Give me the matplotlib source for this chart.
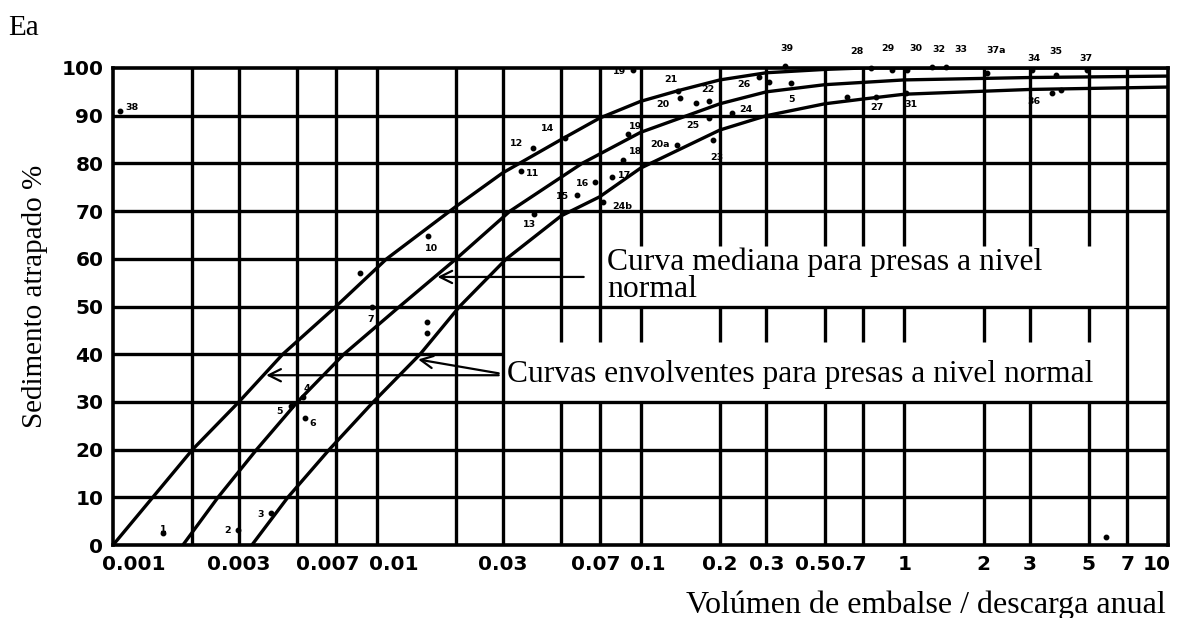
import numpy as np
import matplotlib
matplotlib.use("Agg")
import matplotlib.pyplot as plt
from matplotlib.transforms import ScaledTranslation

# axis grid and labels
x_grid = [0.002, 0.003, 0.005, 0.007, 0.01, 0.02, 0.03, 0.05, 0.07,
          0.1, 0.2, 0.3, 0.5, 0.7, 1, 2, 3, 5, 7]
x_ticks = [0.001, 0.003, 0.007, 0.01, 0.03, 0.07, 0.1, 0.2, 0.3,
           0.5, 0.7, 1, 2, 3, 5, 7, 10]
x_ticklabels = ["0.001", "0.003", "0.007", "0.01", "0.03", "0.07", "0.1",
                "0.2", "0.3", "0.5", "0.7", "1", "2", "3", "5", "7", "10"]
y_ticks = list(range(0, 101, 10))

# curves
upper_x = [0.001, 0.002, 0.003, 0.0044, 0.007, 0.0109, 0.02, 0.03, 0.05,
           0.07, 0.1, 0.14, 0.2, 0.3, 0.5, 0.7, 10]
upper_y = [0, 20, 30, 40, 50, 60, 71, 78, 85, 89.5, 93, 95.3, 97.5, 99, 99.7, 100, 100]

median_x = [0.00184, 0.0025, 0.0035, 0.005, 0.0075, 0.0122, 0.02, 0.032,
            0.06, 0.1, 0.2, 0.3, 0.5, 1, 3, 10]
median_y = [0, 10, 20, 30, 40, 50, 60, 70, 80, 86.5, 92.5, 95, 96.5, 97.5, 98, 98.3]

lower_x = [0.00336, 0.0046, 0.0066, 0.0097, 0.0146, 0.0206, 0.031, 0.05,
           0.07, 0.1, 0.2, 0.3, 0.5, 0.7, 1, 3, 10]
lower_y = [0, 10, 20, 30, 40, 50, 60, 69, 73, 79, 87, 90, 92.5, 93.5, 94.5, 95.5, 96]

# observed reservoirs
pt_lab = ["1", "2", "3", "4", "5", "6", "7", "", "", "", "10", "11", "12", "13",
          "14", "15", "16", "17", "18", "19", "19", "20", "21", "22", "",
          "20a", "23", "25", "24", "24b", "26", "", "39", "5", "28", "29",
          "30", "32", "33", "37a", "34", "35", "37", "36", "27", "31", "",
          "", "", "38"]
pt_x = [0.00155, 0.00297, 0.00396, 0.00525, 0.00472, 0.00534, 0.00957, 0.00862,
        0.0155, 0.0155, 0.0156, 0.0351, 0.039, 0.0393, 0.0515, 0.0572, 0.067,
        0.0783, 0.0855, 0.0893, 0.0933, 0.1406, 0.139, 0.1825, 0.163, 0.138,
        0.1875, 0.1825, 0.223, 0.0718, 0.282, 0.308, 0.354, 0.373, 0.75, 0.902,
        1.026, 1.276, 1.442, 2.06, 3.05, 3.77, 4.93, 3.63, 0.784, 1.018, 3.94,
        0.608, 5.82, 0.00106]
pt_y = [2.5, 3.1, 6.7, 31.0, 29.1, 26.6, 49.9, 57.0, 46.8, 44.4, 64.8, 78.4,
        83.2, 69.4, 85.3, 73.4, 76.1, 77.1, 80.7, 86.2, 99.6, 93.7, 95.2, 93.1,
        92.7, 83.9, 84.9, 89.5, 90.6, 71.9, 98.1, 97.1, 100.5, 96.9, 100.0,
        99.6, 99.6, 100.2, 100.2, 99.0, 99.6, 98.5, 99.6, 94.8, 93.9, 94.8,
        95.4, 93.9, 1.7, 91.0]
# label offsets in pixels
pt_off = [(0, 4), (-10, 0), (-10, -1), (4, 9), (-11, -5), (8, -5), (-1, -12),
          (0, 0), (0, 0), (0, 0), (4, -13), (12, -2), (-16, 5), (-4, -11),
          (-17, 10), (-14, -2), (-12, -1), (12, 2), (13, 9), (8, 7), (-13, -2),
          (-17, -6), (-7, 11), (-2, 11), (0, 0), (-17, 0), (4, -17), (-17, -7),
          (13, 3), (20, -4), (-15, -7), (0, 0), (2, 17), (0, -17), (-14, 16),
          (-5, 21), (9, 21), (7, 18), (15, 18), (9, 22), (2, 11), (0, 24),
          (-1, 11), (-18, -9), (0, -10), (5, -12), (0, 0), (0, 0), (0, 0), (12, 3)]

serif = "Liberation Serif"

fig = plt.figure(figsize=(11.81, 6.18), dpi=100)
ax = fig.add_axes([0.0957, 0.118, 0.8933, 0.772])
ax.set_xscale("log")
ax.set_xlim(0.001, 10)
ax.set_ylim(0, 100)

# text boxes cut the grid: (x0, x1, y0, y1)
box_med = (0.07, 7, 50, 62.7)
box_env = (0.03, 7, 30, 42.5)
h_gap = {60: (0.05, 10), 40: (0.03, 10)}


def cut(lo, hi, gaps):
    segs = [(lo, hi)]
    for g0, g1 in gaps:
        new = []
        for a, b in segs:
            if g1 <= a or g0 >= b:
                new.append((a, b))
                continue
            if a < g0:
                new.append((a, g0))
            if g1 < b:
                new.append((g1, b))
        segs = new
    return segs


grid_kw = dict(color="black", lw=2.4, zorder=1, solid_capstyle="butt")
for x in x_grid:
    gaps = [(b[2], b[3]) for b in (box_med, box_env) if b[0] < x < b[1]]
    for a, b in cut(0, 100, gaps):
        ax.plot([x, x], [a, b], **grid_kw)
for y in y_ticks[1:-1]:
    gaps = [h_gap[y]] if y in h_gap else []
    for a, b in cut(0.001, 10, gaps):
        ax.plot([a, b], [y, y], **grid_kw)

for cx, cy in [(upper_x, upper_y), (median_x, median_y), (lower_x, lower_y)]:
    ax.plot(cx, cy, color="black", lw=2.4, zorder=3)

ax.plot(pt_x, pt_y, "o", color="black", ms=3.2, zorder=4, clip_on=False)
for lab, x, y, off in zip(pt_lab, pt_x, pt_y, pt_off):
    if lab:
        ax.annotate(lab, (x, y), xytext=off, textcoords="offset pixels",
                    ha="center", va="center", fontsize=6.8, fontweight="bold",
                    annotation_clip=False, zorder=5)

# annotations
ax.text(0.0745, 62.3, "Curva mediana para presas a nivel\nnormal", family=serif,
        fontsize=22.8, va="top", ha="left", linespacing=0.9, zorder=5)
ax.text(0.0313, 35.8, "Curvas envolventes para presas a nivel normal", family=serif,
        fontsize=22.7, va="center", ha="left", zorder=5)


def x_at(cx, cy, y):
    return 10 ** np.interp(y, cy, np.log10(cx))


arrow = dict(arrowstyle="->", lw=1.6, color="black", mutation_scale=22)
ax.annotate("", xy=(x_at(median_x, median_y, 56.2), 56.2), xytext=(0.0624, 56.2),
            arrowprops=arrow, zorder=5)
ax.annotate("", xy=(x_at(upper_x, upper_y, 35.6), 35.6), xytext=(0.0297, 35.6),
            arrowprops=arrow, zorder=5)
ax.annotate("", xy=(x_at(lower_x, lower_y, 39.0), 39.0), xytext=(0.0297, 35.9),
            arrowprops=arrow, zorder=5)

for s in ax.spines.values():
    s.set_linewidth(2.6)
ax.set_yticks(y_ticks)
ax.set_xticks(x_ticks)
ax.set_xticks([], minor=True)
ax.set_xticklabels(x_ticklabels)
ax.tick_params(length=0, labelsize=14.5, pad=7)
for lab in ax.get_xticklabels() + ax.get_yticklabels():
    lab.set_fontweight("bold")

# nudge crowded x labels sideways (pixels)
label_dx = {0: 21, 2: -8, 3: 17, 5: -4, 6: 7, 9: -12, 10: -15, 16: -11}
for i, lab in enumerate(ax.get_xticklabels()):
    if i in label_dx:
        lab.set_transform(lab.get_transform() +
                          ScaledTranslation(label_dx[i] / 100, 0, fig.dpi_scale_trans))

fig.text(0.007, 0.955, "Ea", family=serif, fontsize=21, va="center", ha="left")
fig.text(0.030, 0.52, "Sedimento atrapado %", family=serif, fontsize=21,
         rotation=90, va="center", ha="center")
fig.text(0.987, 0.021, "Volúmen de embalse / descarga anual", family=serif,
         fontsize=23, va="center", ha="right")

fig.savefig("out.png", dpi=100)
